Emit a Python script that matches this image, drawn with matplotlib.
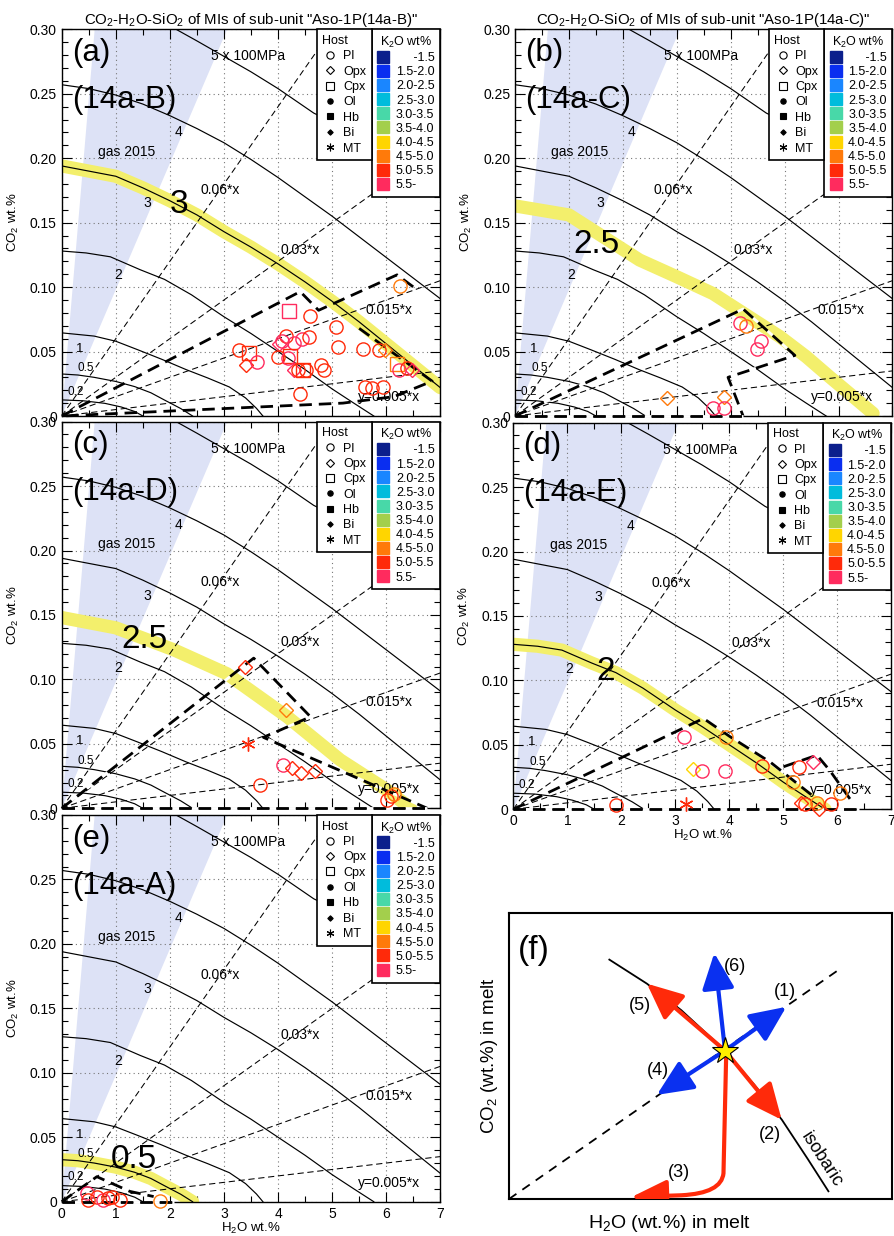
import numpy as np
import matplotlib
matplotlib.use("Agg")
import matplotlib.pyplot as plt
from matplotlib.lines import Line2D
from matplotlib.patches import Polygon, FancyArrowPatch
from matplotlib.path import Path

plt.rcParams["font.family"] = ["Liberation Sans", "DejaVu Sans"]
plt.rcParams["mathtext.fontset"] = "custom"
plt.rcParams["mathtext.rm"] = "Liberation Sans"
plt.rcParams["mathtext.it"] = "Liberation Sans:italic"
plt.rcParams["mathtext.bf"] = "Liberation Sans:bold"

W, H = 895, 1236

# ---------------- isobars (x100 MPa), H2O wt.% vs CO2 wt.% ----------------
iso02_h2o = [0, 0.4, 0.8, 1.1, 1.35, 1.5]
iso02_co2 = [0.0125, 0.0118, 0.0098, 0.0070, 0.0035, 0.0]
iso05_h2o = [0, 0.3, 0.6, 1.0, 1.35, 1.65, 1.9, 2.2, 2.42]
iso05_co2 = [0.0326, 0.0318, 0.0300, 0.0268, 0.0228, 0.0180, 0.0124, 0.0058, 0.0]
iso1_h2o = [0, 0.6, 1.0, 1.4, 1.85, 2.3, 2.7, 3.1, 3.4, 3.6, 3.72]
iso1_co2 = [0.0645, 0.0620, 0.0580, 0.0515, 0.0440, 0.0360, 0.0295, 0.0225, 0.0140, 0.0060, 0.0]
iso2_h2o = [0, 0.45, 0.9, 1.45, 1.9, 2.4, 3.0, 3.5, 4.0, 4.5, 5.0, 5.4, 5.77]
iso2_co2 = [0.128, 0.1265, 0.1235, 0.1135, 0.106, 0.094, 0.077, 0.064, 0.050, 0.036, 0.021, 0.010, 0.0]
iso3_h2o = [0, 0.5, 1.0, 1.5, 2.0, 2.5, 3.0, 3.5, 4.0, 4.5, 5.0, 5.5, 6.0, 6.5, 7.0]
iso3_co2 = [0.194, 0.190, 0.186, 0.177, 0.167, 0.156, 0.143, 0.131, 0.118, 0.104, 0.089, 0.073, 0.056, 0.039, 0.022]
iso4_h2o = [0, 0.5, 1.0, 1.5, 2.0, 2.5, 3.0, 3.5, 4.0, 4.5, 5.0, 5.5, 6.0, 6.5, 7.0]
iso4_co2 = [0.257, 0.254, 0.249, 0.242, 0.233, 0.223, 0.212, 0.199, 0.185, 0.170, 0.155, 0.139, 0.123, 0.107, 0.091]
iso5_h2o = [1.9, 2.5, 3.0, 3.5, 4.0, 4.66, 5.0, 6.0, 7.0]
iso5_co2 = [0.305, 0.291, 0.279, 0.267, 0.254, 0.235, 0.228, 0.201, 0.172]

# 2.5 x 100 MPa curves highlighted in (b) and (c)
yel_b_h2o = [0, 1.0, 2.31, 3.0, 3.67, 4.3, 4.91, 5.4, 5.83, 6.3, 6.64]
yel_b_co2 = [0.163, 0.156, 0.121, 0.108, 0.095, 0.078, 0.0616, 0.046, 0.0305, 0.014, 0.002]
yel_c_h2o = [0, 1.0, 2.07, 3.05, 4.17, 5.15, 6.02, 6.45]
yel_c_co2 = [0.148, 0.140, 0.123, 0.1045, 0.071, 0.0375, 0.014, 0.0]

# isopleth slopes (CO2 = k * H2O)
iso_k = [0.06, 0.03, 0.015, 0.005]

# gas 2015 wedge
gas_h2o = [0, 0.61, 3.06]
gas_co2 = [0, 0.30, 0.30]

# ---------------- melt inclusion data ----------------
a_h2o = [4.20, 4.60, 6.25, 5.07, 5.10, 5.57, 5.86, 5.97, 4.14, 4.08, 4.02, 4.29, 4.44, 4.58,
         3.27, 3.46, 3.41, 3.61, 4.00, 4.22, 4.19, 4.29, 4.36, 4.46, 4.52, 4.80, 4.85, 4.41,
         5.60, 5.74, 5.94, 6.20, 6.23, 6.39, 6.48]
a_co2 = [0.0818, 0.0776, 0.101, 0.0694, 0.0533, 0.0518, 0.0513, 0.0510, 0.0621, 0.0580, 0.0560,
         0.0564, 0.0600, 0.0610, 0.0512, 0.0492, 0.0396, 0.0422, 0.0457, 0.0466, 0.0450, 0.0357,
         0.0357, 0.0357, 0.0357, 0.0396, 0.0357, 0.0170, 0.0228, 0.0215, 0.0222, 0.0404, 0.0357,
         0.0370, 0.0357]
a_host = ["Cpx", "Pl", "Pl", "Pl", "Pl", "Pl", "Pl", "Opx", "Pl", "Pl", "Opx", "Pl", "Pl", "Pl",
          "Pl", "Cpx", "Opx", "Pl", "Pl", "Cpx", "Pl", "Opx", "Pl", "Cpx", "Pl", "Pl", "Pl", "Pl",
          "Pl", "Pl", "Pl", "Cpx", "Pl", "Pl", "Opx"]
a_k2o = ["5.5-", "5.0-5.5", "4.5-5.0", "5.0-5.5", "5.0-5.5", "5.0-5.5", "5.0-5.5", "4.5-5.0",
         "5.0-5.5", "5.5-", "5.5-", "5.5-", "5.5-", "5.0-5.5", "5.0-5.5", "5.0-5.5", "5.0-5.5",
         "5.5-", "5.0-5.5", "5.0-5.5", "5.5-", "5.5-", "5.0-5.5", "5.0-5.5", "5.0-5.5", "5.0-5.5",
         "5.0-5.5", "5.0-5.5", "5.0-5.5", "5.0-5.5", "5.0-5.5", "4.5-5.0", "5.5-", "5.0-5.5", "5.5-"]

b_h2o = [4.17, 4.29, 4.56, 4.48, 2.81, 3.88, 3.67, 3.88]
b_co2 = [0.0720, 0.0699, 0.0585, 0.0517, 0.0137, 0.0150, 0.0060, 0.0060]
b_host = ["Pl", "Pl", "Pl", "Pl", "Opx", "Opx", "Pl", "Pl"]
b_k2o = ["5.5-", "4.5-5.0", "5.5-", "5.5-", "4.5-5.0", "4.5-5.0", "5.5-", "5.5-"]

c_h2o = [3.39, 4.15, 3.45, 4.10, 4.26, 4.43, 4.69, 3.67, 6.02, 6.08, 6.14]
c_co2 = [0.110, 0.0763, 0.050, 0.0336, 0.031, 0.0272, 0.029, 0.018, 0.0065, 0.0095, 0.011]
c_host = ["Opx", "Opx", "MT", "Pl", "Opx", "Opx", "Opx", "Pl", "Pl", "Pl", "Pl"]
c_k2o = ["5.0-5.5", "4.5-5.0", "5.0-5.5", "5.5-", "5.0-5.5", "5.0-5.5", "5.0-5.5", "5.0-5.5",
         "5.0-5.5", "5.0-5.5", "4.5-5.0"]

d_h2o = [3.16, 3.93, 3.33, 3.49, 3.92, 4.60, 5.29, 5.54, 5.17, 6.05, 1.90, 3.20, 5.33, 5.40,
         5.62, 5.88, 5.66]
d_co2 = [0.0564, 0.0558, 0.031, 0.030, 0.030, 0.0336, 0.0331, 0.0364, 0.0215, 0.0129, 0.003,
         0.004, 0.0045, 0.004, 0.0047, 0.0039, 0.0]
d_host = ["Pl", "Pl", "Opx", "Pl", "Pl", "Pl", "Pl", "Opx", "Pl", "Pl", "Pl", "MT", "Opx", "Pl",
          "Pl", "Pl", "Opx"]
d_k2o = ["5.5-", "4.5-5.0", "4.0-4.5", "5.5-", "5.5-", "5.0-5.5", "5.0-5.5", "5.5-", "4.5-5.0",
         "4.5-5.0", "5.0-5.5", "5.0-5.5", "5.0-5.5", "5.0-5.5", "4.5-5.0", "5.0-5.5", "5.0-5.5"]

e_h2o = [0.46, 0.49, 0.65, 0.77, 0.86, 0.93, 1.08, 1.82]
e_co2 = [0.0065, 0.0013, 0.004, 0.0013, 0.003, 0.0035, 0.0013, 0.0008]
e_host = ["Pl"] * 8
e_k2o = ["5.5-", "5.0-5.5", "5.0-5.5", "5.5-", "5.0-5.5", "5.0-5.5", "5.0-5.5", "4.5-5.0"]

# thick dashed outlines
a_out = [([0, 4.41, 4.75, 6.2, 6.57], [0, 0.0965, 0.082, 0.1095, 0.098]),
         ([5.5, 6.85, 6.14, 5.2, 0], [0.068, 0.027, 0.015, 0.010, 0])]
b_out = [([0, 4.23, 5.19, 3.95, 4.23], [0, 0.083, 0.047, 0.030, 0.0]),
         ([0, 4.23], [0, 0])]
c_out = [([0, 3.55, 4.6, 3.73, 6.76], [0, 0.1165, 0.071, 0.055, 0.0]),
         ([0, 6.76], [0, 0])]
d_out = [([0, 3.52, 4.01, 4.76, 5.56], [0, 0.0705, 0.0564, 0.0365, 0.0098]),
         ([5.0, 5.62, 5.86, 6.3], [0.033, 0.042, 0.030, 0.004]),
         ([0, 6.4], [0, 0])]
e_out = [([0, 0.65, 1.26, 1.7], [0, 0.0194, 0.008, 0.004]),
         ([0, 2.07], [0, 0])]

host_names = ["Pl", "Opx", "Cpx", "Ol", "Hb", "Bi", "MT"]
k2o_names = ["-1.5", "1.5-2.0", "2.0-2.5", "2.5-3.0", "3.0-3.5", "3.5-4.0", "4.0-4.5",
             "4.5-5.0", "5.0-5.5", "5.5-"]
k2o_colors = ["#0c1f8c", "#0a2ef0", "#1a86ff", "#00bcdc", "#48d8a8", "#a3cf4c", "#ffd500",
              "#ff7a0a", "#ff2a0a", "#ff2b5e"]
k2o_color = dict(zip(k2o_names, k2o_colors))

# marker, filled, size
host_style = {"Pl": ("o", False, 9.5), "Opx": ("D", False, 7.5), "Cpx": ("s", False, 9.5),
              "Ol": ("o", True, 7), "Hb": ("s", True, 7), "Bi": ("D", True, 5),
              "MT": ((6, 2, 0), False, 10)}

fig = plt.figure(figsize=(W / 100, H / 100), dpi=100)


def make_axes(l, t, r, b):
    return fig.add_axes([l / W, 1 - b / H, (r - l) / W, (b - t) / H])


YEL = "#f3ef6c"
LEGKW = dict(fontsize=9, title_fontsize=9, borderpad=0.45,
             borderaxespad=0, fancybox=False, framealpha=1, edgecolor="k")


def draw_panel(ax, tag, unit, pts, yel, big, big_xy, outlines, show_x, title=None):
    ax.set_xlim(0, 7)
    ax.set_ylim(0, 0.30)
    ax.set_xticks(range(8))
    ax.set_xticks(np.arange(0, 7.01, 0.5), minor=True)
    ax.set_yticks(np.arange(0, 0.301, 0.05))
    ax.set_yticks(np.arange(0, 0.301, 0.01), minor=True)
    ax.set_yticklabels(["0", "0.05", "0.10", "0.15", "0.20", "0.25", "0.30"])
    ax.tick_params(which="both", direction="in", top=True, right=True, labelsize=10, width=0.8)
    ax.tick_params(which="major", length=7)
    ax.tick_params(which="minor", length=4)
    if show_x:
        ax.set_xticklabels([str(i) for i in range(8)])
        ax.set_xlabel("H$_2$O wt.%", fontsize=9.5, labelpad=0)
    else:
        ax.set_xticklabels([])
    ax.set_ylabel("CO$_2$ wt.%", fontsize=9.5)
    ax.yaxis.set_label_coords(-0.108, 0.5)
    ax.grid(True, which="major", ls=(0, (1, 3)), color="#777777", lw=0.8)
    ax.set_axisbelow(True)
    for s in ax.spines.values():
        s.set_linewidth(1.0)
    if title:
        ax.set_title(title, fontsize=10.8, pad=3)

    ax.add_patch(Polygon(list(zip(gas_h2o, gas_co2)), closed=True, fc="#dde2f6", ec="none",
                         zorder=0.5))
    ax.plot(yel[0], yel[1], color=YEL, lw=9.5, solid_capstyle="round", zorder=1.5)
    for hx, cy in [(iso02_h2o, iso02_co2), (iso05_h2o, iso05_co2), (iso1_h2o, iso1_co2),
                   (iso2_h2o, iso2_co2), (iso3_h2o, iso3_co2), (iso4_h2o, iso4_co2),
                   (iso5_h2o, iso5_co2)]:
        ax.plot(hx, cy, color="k", lw=0.85, zorder=2)
    for k in iso_k:
        ax.plot([0, 7], [0, 7 * k], color="k", lw=0.75, dashes=(6, 3.5), zorder=2)
    for ox, oy in outlines:
        on_axis = oy[0] == 0 and oy[-1] == 0
        ax.plot(ox, oy, color="k", lw=2.0, dashes=(4.5, 2.5),
                gapcolor="white" if on_axis else None, zorder=4, clip_on=False)

    for x, y, h, k in zip(*pts):
        m, filled, ms = host_style[h]
        c = k2o_color[k]
        ax.plot(x, y, ls="", marker=m, ms=ms, mec=c, mfc=c if filled else "none", mew=1.0,
                zorder=6, clip_on=False)

    # annotations
    ax.text(3.45, 0.279, "5 x 100MPa", fontsize=10, ha="center", va="center", zorder=5)
    ax.text(2.16, 0.220, "4", fontsize=10, ha="center", va="center", zorder=5)
    ax.text(1.58, 0.165, "3", fontsize=10, ha="center", va="center", zorder=5)
    ax.text(1.04, 0.109, "2", fontsize=10, ha="center", va="center", zorder=5)
    ax.text(0.34, 0.052, "1", fontsize=9.5, ha="center", va="center", zorder=5)
    ax.text(0.45, 0.037, "0.5", fontsize=8.5, ha="center", va="center", zorder=5)
    ax.text(0.25, 0.019, "0.2", fontsize=8.5, ha="center", va="center", zorder=5)
    ax.text(1.2, 0.205, "gas 2015", fontsize=10, ha="center", va="center", zorder=5)
    ax.text(2.93, 0.1755, "0.06*x", fontsize=10, ha="center", va="center", zorder=5)
    ax.text(4.41, 0.129, "0.03*x", fontsize=10, ha="center", va="center", zorder=5)
    ax.text(6.05, 0.0823, "0.015*x", fontsize=10, ha="center", va="center", zorder=5)
    ax.text(6.06, 0.0148, "y=0.005*x", fontsize=10, ha="center", va="center", zorder=5)
    ax.text(0.185, 0.2816, tag, fontsize=22.5, ha="left", va="center", zorder=5)
    ax.text(0.185, 0.2453, unit, fontsize=22.5, ha="left", va="center", zorder=5)
    ax.text(big_xy[0], big_xy[1], big, fontsize=24, ha="center", va="center", zorder=5)

    # legends
    k_handles = [Line2D([], [], ls="", marker="s", ms=8.5, mec=c, mfc=c) for c in k2o_colors]
    k_labels = ["     -1.5"] + k2o_names[1:]
    leg2 = ax.legend(k_handles, k_labels, title="K$_2$O wt%", loc="upper right",
                     bbox_to_anchor=(1.0, 1.0), handlelength=1.0, handletextpad=0.5,
                     labelspacing=0.17, **LEGKW)
    leg2.get_frame().set_linewidth(1.2)
    leg2.set_zorder(10)
    ax.add_artist(leg2)
    fig.canvas.draw()
    bb = leg2.get_window_extent().transformed(ax.transAxes.inverted())
    h_handles = []
    for h in host_names:
        m, filled, ms = host_style[h]
        h_handles.append(Line2D([], [], ls="", marker=m, ms=ms * 0.55, mec="k",
                                mfc="k" if filled else "none", mew=0.8))
    leg1 = ax.legend(h_handles, host_names, title="Host", loc="upper right",
                     bbox_to_anchor=(bb.x0, 1.0), alignment="left", handlelength=1.3,
                     handletextpad=0.35, labelspacing=0.27, **LEGKW)
    leg1.get_frame().set_linewidth(1.2)
    leg1.set_zorder(10)


ax_a = make_axes(61.7, 29.3, 440.3, 416)
ax_b = make_axes(515, 29.3, 892.5, 416)
ax_c = make_axes(61.7, 421.6, 440.3, 808.3)
ax_d = make_axes(513.3, 422.6, 891.5, 809.3)
ax_e = make_axes(61.7, 815, 440.3, 1201.7)
ax_f = make_axes(509, 913, 892, 1199)

draw_panel(ax_a, "(a)", "(14a-B)", (a_h2o, a_co2, a_host, a_k2o), (iso3_h2o, iso3_co2), "3",
           (2.16, 0.164), a_out, False,
           'CO$_2$-H$_2$O-SiO$_2$ of MIs of sub-unit "Aso-1P(14a-B)"')
draw_panel(ax_b, "(b)", "(14a-C)", (b_h2o, b_co2, b_host, b_k2o), (yel_b_h2o, yel_b_co2), "2.5",
           (1.52, 0.133), b_out, False,
           'CO$_2$-H$_2$O-SiO$_2$ of MIs of sub-unit "Aso-1P(14a-C)"')
draw_panel(ax_c, "(c)", "(14a-D)", (c_h2o, c_co2, c_host, c_k2o), (yel_c_h2o, yel_c_co2), "2.5",
           (1.54, 0.131), c_out, False)
draw_panel(ax_d, "(d)", "(14a-E)", (d_h2o, d_co2, d_host, d_k2o), (iso2_h2o, iso2_co2), "2",
           (1.70, 0.107), d_out, True)
draw_panel(ax_e, "(e)", "(14a-A)", (e_h2o, e_co2, e_host, e_k2o), (iso05_h2o, iso05_co2), "0.5",
           (1.33, 0.0324), e_out, True)

# ---------------- (f) schematic ----------------
f_star = (0.564, 0.519)
f_end_x = [0.724, 0.712, 0.386, 0.360, 0.536]
f_end_y = [0.672, 0.277, 0.364, 0.753, 0.860]
f_end_c = ["#0a30f0", "#ff2a0a", "#0a30f0", "#ff2a0a", "#0a30f0"]
f_iso_x = [0.262, 0.36, 0.45, 0.564, 0.64, 0.7125, 0.78, 0.834]
f_iso_y = [0.837, 0.753, 0.66, 0.519, 0.40, 0.277, 0.14, 0.027]
f_curve = [(0.567, 0.50), (0.560, 0.09), (0.555, 0.02), (0.45, 0.013), (0.32, 0.007)]

ax = ax_f
ax.set_xlim(0, 1)
ax.set_ylim(0, 1)
ax.set_xticks([])
ax.set_yticks([])
for s in ax.spines.values():
    s.set_linewidth(1.5)
ax.plot([0, 0.869], [0, 0.809], color="k", lw=1.3, dashes=(5, 4), zorder=1)
ax.plot(f_iso_x, f_iso_y, color="k", lw=1.3, zorder=1)
astyle = "-|>,head_length=1.0,head_width=0.45"
for ex, ey, c in zip(f_end_x, f_end_y, f_end_c):
    ax.add_patch(FancyArrowPatch(f_star, (ex, ey), arrowstyle=astyle, mutation_scale=22,
                                 lw=3, color=c, shrinkA=0, shrinkB=0, zorder=3))
codes = [Path.MOVETO, Path.LINETO, Path.CURVE3, Path.CURVE3, Path.LINETO]
ax.add_patch(FancyArrowPatch(path=Path(f_curve, codes), arrowstyle=astyle, mutation_scale=22,
                             lw=3, color="#ff2a0a", zorder=3))
ax.plot(*f_star, marker="*", ms=20, mfc="#ffee00", mec="k", mew=0.8, zorder=5)
for tx, ty, t in [(0.59, 0.814, "(6)"), (0.72, 0.724, "(1)"), (0.342, 0.676, "(5)"),
                  (0.388, 0.451, "(4)"), (0.68, 0.224, "(2)"), (0.443, 0.091, "(3)")]:
    ax.text(tx, ty, t, fontsize=13, ha="center", va="center", transform=ax.transAxes)
ax.text(0.817, 0.137, "isobaric", fontsize=13, rotation=-57, ha="center", va="center",
        transform=ax.transAxes)
ax.text(0.064, 0.87, "(f)", fontsize=24, ha="center", va="center", transform=ax.transAxes)
ax.text(0.42, -0.084, "H$_2$O (wt.%) in melt", fontsize=14, ha="center", va="center",
        transform=ax.transAxes)
ax.text(-0.05, 0.5, "CO$_2$ (wt.%) in melt", fontsize=13.5, ha="center", va="center",
        rotation=90, transform=ax.transAxes)

fig.savefig("out.png", dpi=100)
